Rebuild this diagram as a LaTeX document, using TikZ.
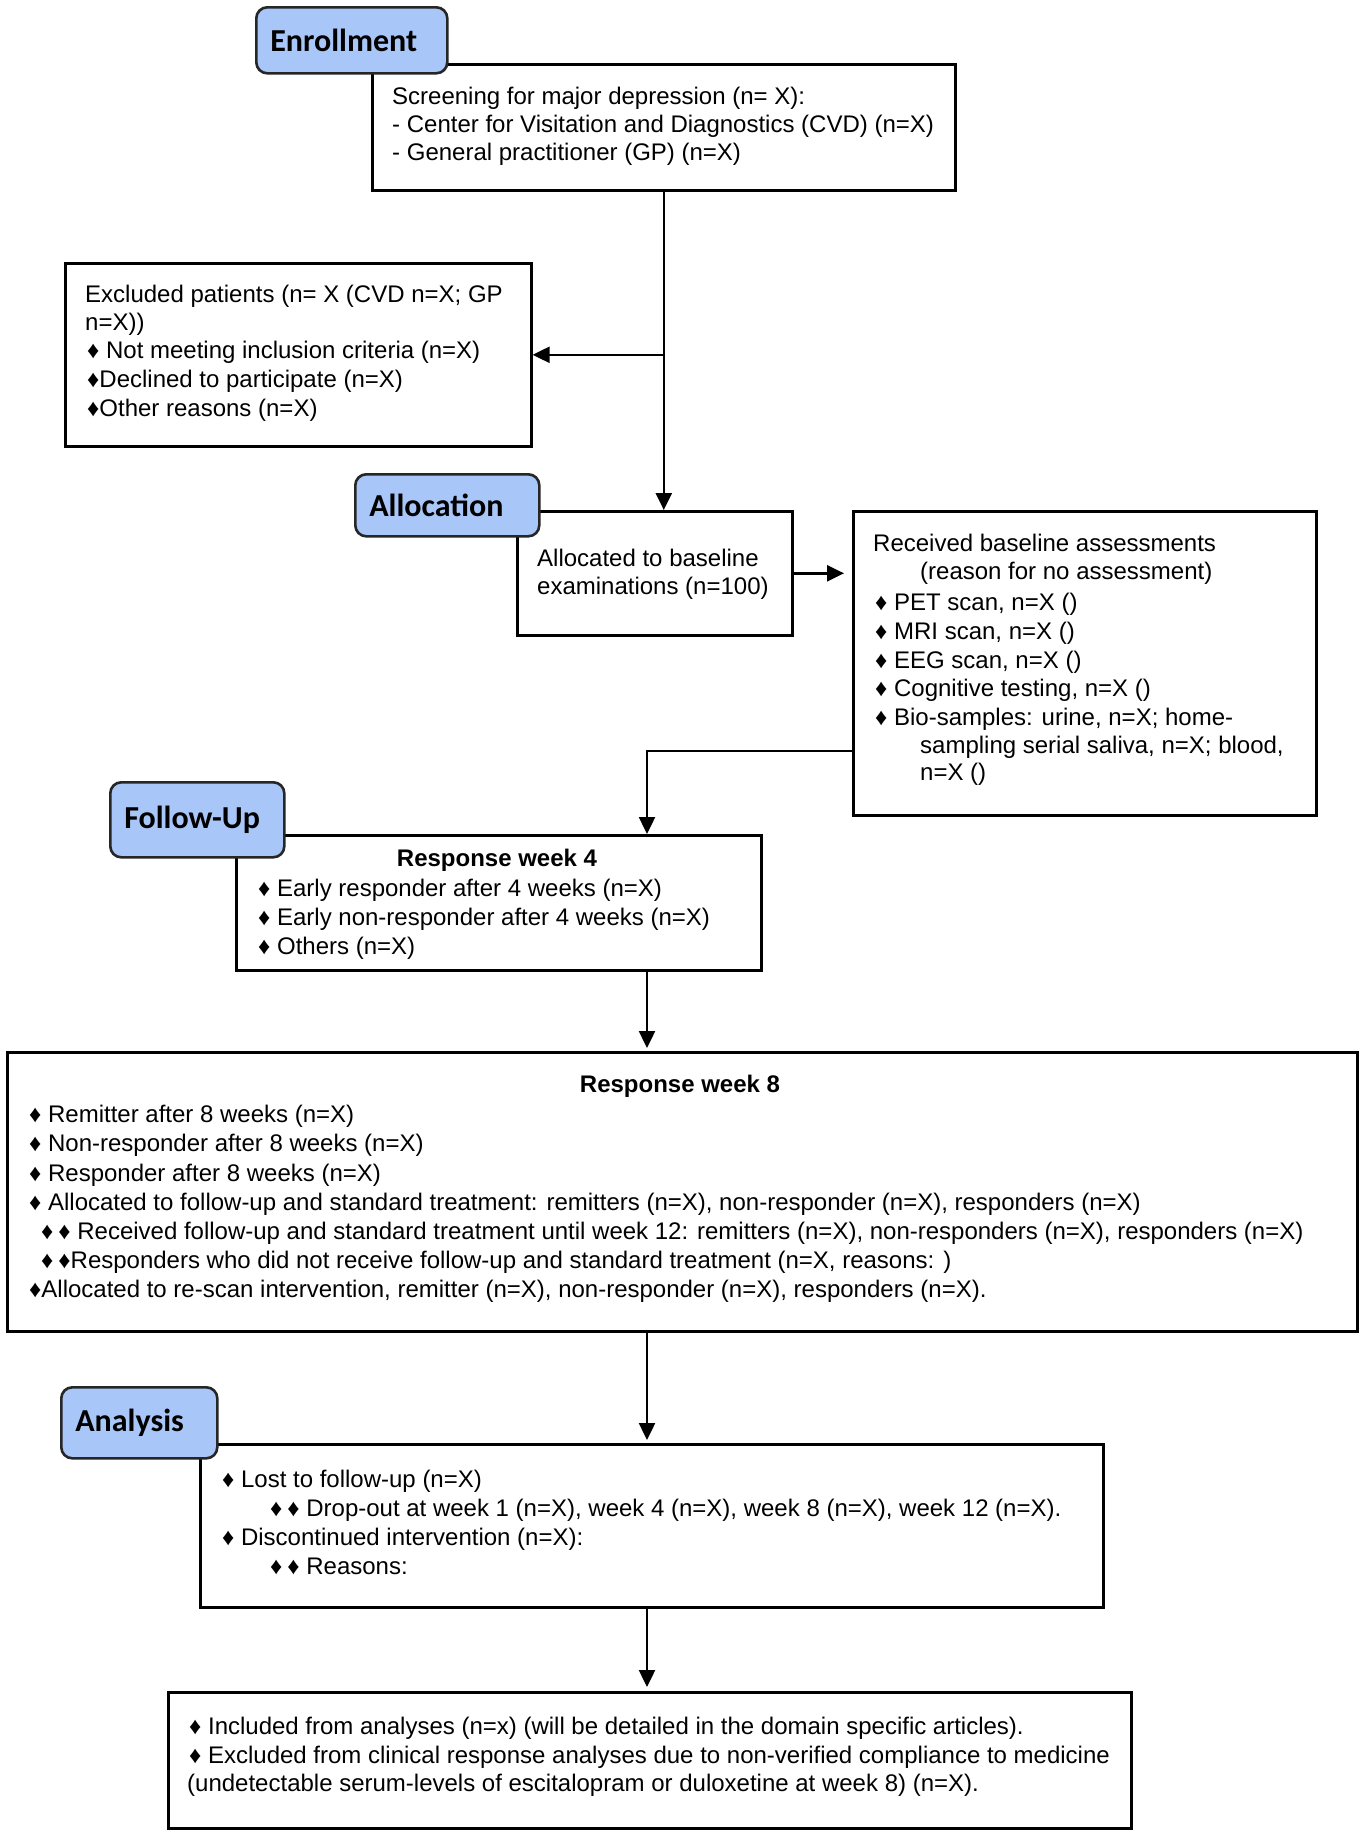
\documentclass[tikz,border=0pt]{standalone}
\usepackage{fontspec}
\setmainfont{Liberation Sans}
\newfontfamily\tagfont{Carlito}
\usetikzlibrary{arrows.meta}
\definecolor{tagblue}{RGB}{168,198,248}
\newcommand\dd{♦\hspace{5pt}♦}
\begin{document}
\begin{tikzpicture}[x=1pt,y=-1pt,
  box/.style={draw=black, line width=2.6pt, fill=white, inner sep=0pt, anchor=north west},
  tagbox/.style={draw=black!85, line width=2.6pt, fill=tagblue, rounded corners=11pt,
    inner xsep=14pt, inner ysep=0pt, anchor=north west, align=left,
    font=\tagfont\bfseries\fontsize{32}{36}\selectfont},
  tx/.style={anchor=base west, inner sep=0pt, font=\fontsize{24}{28}\selectfont},
  ttl/.style={anchor=base, inner sep=0pt, font=\bfseries\fontsize{24}{28}\selectfont},
  arr/.style={line width=2.4pt, -{Triangle[length=17pt,width=16pt]}}
]
\useasboundingbox[fill=white] (0,0) rectangle (1358,1831);

% ---------- boxes ----------
\node[box, minimum width=583pt, minimum height=126pt] (screen) at (371,63) {};
\node[box, minimum width=466pt, minimum height=183pt] (excl) at (64,262) {};
\node[box, minimum width=275pt, minimum height=124pt] (alloc) at (516,510) {};
\node[box, minimum width=463pt, minimum height=304pt] (base) at (852,510) {};
\node[box, minimum width=525pt, minimum height=135pt] (rw4) at (235,834) {};
\node[box, minimum width=1350pt, minimum height=279pt] (rw8) at (6,1051) {};
\node[box, minimum width=903pt, minimum height=163pt] (ana) at (199,1443) {};
\node[box, minimum width=963pt, minimum height=136pt] (fin) at (167,1691) {};

% ---------- connectors ----------
\coordinate (br) at (screen.south |- excl.east);
\coordinate (bend) at (647,751);
\draw[arr] (screen.south) -- (screen.south |- alloc.north);
\draw[arr] (br) -- (excl.east);
\draw[arr, shorten >=8pt] (alloc.east) -- (alloc.east -| base.west);
\draw[arr] (base.west |- bend) -- (bend) -- (bend |- rw4.north);
\draw[arr, shorten >=3pt] (bend |- rw4.south) -- (bend |- rw8.north);
\draw[arr, shorten >=3pt] (bend |- rw8.south) -- (bend |- ana.north);
\draw[arr, shorten >=4pt] (bend |- ana.south) -- (bend |- fin.north);

% ---------- tags ----------
\node[tagbox, text width=163pt, minimum height=66pt] (tagE) at (255,6) {Enrollment};
\node[tagbox, text width=156pt, minimum height=62pt] (tagA) at (354,473) {Allocation};
\node[tagbox, text width=146pt, minimum height=75pt] (tagF) at (109,781) {Follow-Up};
\node[tagbox, text width=128pt, minimum height=71pt] (tagN) at (60,1386) {Analysis};

% ---------- texts ----------
\node[tx] (s1) at (392,104) {Screening for major depression (n= X):};
\node[tx] (s2) at (392,132) {- Center for Visitation and Diagnostics (CVD) (n=X)};
\node[tx] (s3) at (392,160) {- General practitioner (GP) (n=X)};

\node[tx] (e1) at (85,302) {Excluded patients (n= X (CVD n=X; GP};
\node[tx] (e2) at (85,330) {n=X))};
\node[tx] (e3) at (87,358) {♦ Not meeting inclusion criteria (n=X)};
\node[tx] (e4) at (87,387) {♦Declined to participate (n=X)};
\node[tx] (e5) at (87,416) {♦Other reasons (n=X)};

\node[tx] (a1) at (537,566) {Allocated to baseline};
\node[tx] (a2) at (537,594) {examinations (n=100)};

\node[tx] (b1) at (873,551) {Received baseline assessments};
\node[tx] (b2) at (920,579) {(reason for no assessment)};
\node[tx] (b3) at (875,610) {♦ PET scan, n=X ()};
\node[tx] (b4) at (875,639) {♦ MRI scan, n=X ()};
\node[tx] (b5) at (875,668) {♦ EEG scan, n=X ()};
\node[tx] (b6) at (875,696) {♦ Cognitive testing, n=X ()};
\node[tx] (b7) at (875,725) {♦ Bio-samples: urine, n=X; home-};
\node[tx] (b8) at (920,753) {sampling serial saliva, n=X; blood,};
\node[tx] (b9) at (920,780) {n=X ()};

\node[ttl] (f0) at (497,866) {Response week 4};
\node[tx] (f1) at (258,896) {♦ Early responder after 4 weeks (n=X)};
\node[tx] (f2) at (258,925) {♦ Early non-responder after 4 weeks (n=X)};
\node[tx] (f3) at (258,954) {♦ Others (n=X)};

\node[ttl] (r0) at (680,1092) {Response week 8};
\node[tx] (r1) at (29,1122) {♦ Remitter after 8 weeks (n=X)};
\node[tx] (r2) at (29,1151) {♦ Non-responder after 8 weeks (n=X)};
\node[tx] (r3) at (29,1181) {♦ Responder after 8 weeks (n=X)};
\node[tx] (r4) at (29,1210) {♦ Allocated to follow-up and standard treatment: remitters (n=X), non-responder (n=X), responders (n=X)};
\node[tx] (r5) at (41,1239) {\dd\ Received follow-up and standard treatment until week 12: remitters (n=X), non-responders (n=X), responders (n=X)};
\node[tx] (r6) at (41,1268) {\dd Responders who did not receive follow-up and standard treatment (n=X, reasons: )};
\node[tx] (r7) at (29,1297) {♦Allocated to re-scan intervention, remitter (n=X), non-responder (n=X), responders (n=X).};

\node[tx] (n1) at (222,1487) {♦ Lost to follow-up (n=X)};
\node[tx] (n2) at (270,1516) {\dd\ Drop-out at week 1 (n=X), week 4 (n=X), week 8 (n=X), week 12 (n=X).};
\node[tx] (n3) at (222,1545) {♦ Discontinued intervention (n=X):};
\node[tx] (n4) at (270,1574) {\dd\ Reasons:};

\node[tx] (i1) at (189,1734) {♦ Included from analyses (n=x) (will be detailed in the domain specific articles).};
\node[tx] (i2) at (189,1763) {♦ Excluded from clinical response analyses due to non-verified compliance to medicine};
\node[tx] (i3) at (187,1791) {(undetectable serum-levels of escitalopram or duloxetine at week 8) (n=X).};
\end{tikzpicture}
\end{document}
